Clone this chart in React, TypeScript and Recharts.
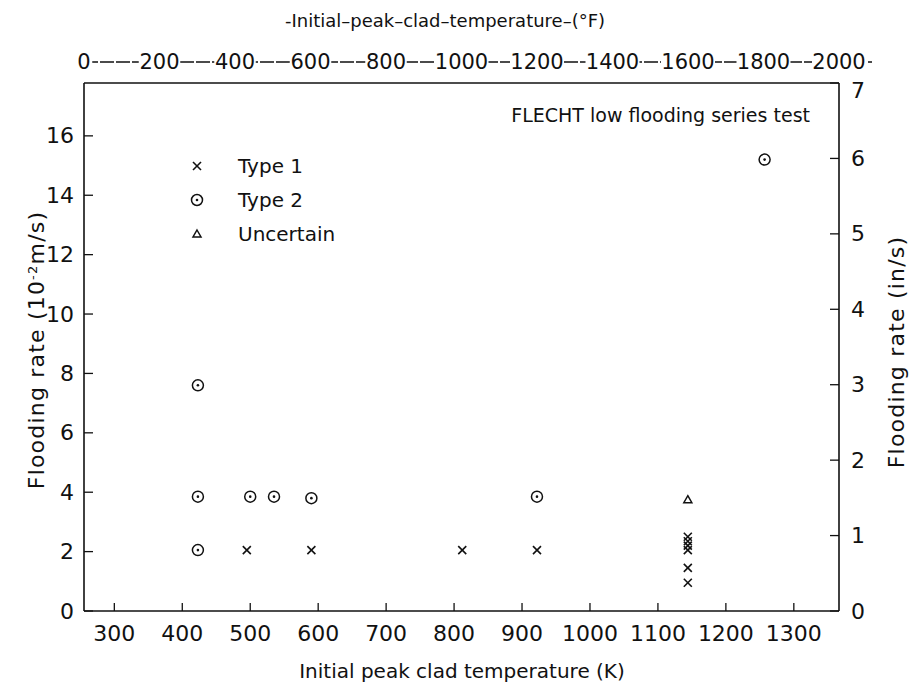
import { ReferenceLine, Scatter, ScatterChart, XAxis, YAxis } from "recharts";

const kelvinTicks = [300, 400, 500, 600, 700, 800, 900, 1000, 1100, 1200, 1300];
const fahrenheitTicks = [0, 200, 400, 600, 800, 1000, 1200, 1400, 1600, 1800, 2000];
const metricTicks = [0, 2, 4, 6, 8, 10, 12, 14, 16];
const inchTicks = [0, 1, 2, 3, 4, 5, 6, 7];

const type1Temps = [495, 590, 812, 922, 1144, 1144, 1144, 1144, 1144, 1144];
const type1Rates = [2.05, 2.05, 2.05, 2.05, 2.5, 2.35, 2.2, 2.05, 1.45, 0.95];
const type2Temps = [423, 423, 423, 500, 535, 590, 922, 1257];
const type2Rates = [7.6, 3.85, 2.05, 3.85, 3.85, 3.8, 3.85, 15.2];
const uncertainTemps = [1144];
const uncertainRates = [3.75];

const toPoints = (xs: number[], ys: number[]) => xs.map((x, i) => ({ k: x, rate: ys[i] }));
// same points in °F, only so the upper scale has a series bound to it
const toFahrenheit = (xs: number[], ys: number[]) =>
  xs.map((x, i) => ({ f: ((x - 273.15) * 9) / 5 + 32, rate: ys[i] }));

const INK = "#111";
const FONT = "'DejaVu Sans', sans-serif";

const Cross = ({ cx, cy }: any) => (
  <g stroke={INK} strokeWidth={1.6}>
    <line x1={cx - 4} x2={cx + 4} y1={cy - 4} y2={cy + 4} />
    <line x1={cx - 4} x2={cx + 4} y1={cy + 4} y2={cy - 4} />
  </g>
);

const Ring = ({ cx, cy }: any) => (
  <g>
    <circle cx={cx} cy={cy} fill="none" r={5.5} stroke={INK} strokeWidth={1.5} />
    <circle cx={cx} cy={cy} fill={INK} r={1.3} />
  </g>
);

const Tri = ({ cx, cy }: any) => (
  <polygon fill="none" points={`${cx},${cy - 4} ${cx + 4},${cy + 3} ${cx - 4},${cy + 3}`} stroke={INK} strokeWidth={1.5} />
);

const Nothing = () => <g />;

const LeftTick = ({ x, y, payload }: any) => (
  <g>
    <line stroke={INK} strokeWidth={1.3} x1={x} x2={x + 9} y1={y} y2={y} />
    <text dominantBaseline="central" fill={INK} fontFamily={FONT} fontSize={22} textAnchor="end" x={x - 10} y={y}>
      {payload.value}
    </text>
  </g>
);

const RightTick = ({ x, y, payload }: any) => (
  <g>
    <line stroke={INK} strokeWidth={1.3} x1={x} x2={x - 9} y1={y} y2={y} />
    <text dominantBaseline="central" fill={INK} fontFamily={FONT} fontSize={22} textAnchor="start" x={x + 12} y={Math.max(y, 90)}>
      {payload.value}
    </text>
  </g>
);

const BottomTick = ({ x, y, payload }: any) => (
  <g>
    <line stroke={INK} strokeWidth={1.3} x1={x} x2={x} y1={y} y2={y - 8} />
    <text dominantBaseline="central" fill={INK} fontFamily={FONT} fontSize={22} textAnchor="middle" x={x} y={y + 22}>
      {payload.value}
    </text>
  </g>
);

const TopTick = ({ x, y, payload }: any) => {
  const label = String(payload.value);
  const w = label.length * 12.5 + 4;
  return (
    <g>
      <rect fill="#fff" height={24} width={w} x={x - w / 2} y={y - 12} />
      <text dominantBaseline="central" fill={INK} fontFamily={FONT} fontSize={21} textAnchor="middle" x={x} y={y}>
        {label}
      </text>
    </g>
  );
};

const legendNames = ["Type 1", "Type 2", "Uncertain"];
const legendMarks = [Cross, Ring, Tri];

export default function App() {
  return (
    <div style={{ position: "absolute", left: 0, top: 0, width: 913, height: 693, background: "#fff" }}>
      <svg height={693} style={{ position: "absolute", left: 0, top: 0 }} width={913}>
        <line stroke={INK} strokeDasharray="14 2" strokeWidth={1.4} x1={84} x2={872} y1={62} y2={62} />
        <g fill={INK} fontFamily={FONT}>
          <text fontSize={18} textAnchor="middle" x={445} y={27}>
            -Initial–peak–clad–temperature–(°F)
          </text>
          <text dominantBaseline="central" fontSize={19} textAnchor="end" x={810} y={115}>
            FLECHT  low  flooding  series  test
          </text>
          {legendNames.map((name, i) => {
            const Mark = legendMarks[i];
            const y = 166 + i * 34;
            return (
              <g key={name}>
                <Mark cx={197} cy={y} />
                <text dominantBaseline="central" fontSize={20} x={238} y={y}>
                  {name}
                </text>
              </g>
            );
          })}
          <text fontSize={20} textAnchor="middle" x={462} y={678}>
            Initial  peak  clad  temperature  (K)
          </text>
          <text fontSize={22} letterSpacing={1.2} textAnchor="middle" transform="rotate(-90 36 350)" x={36} y={358}>
            Flooding  rate  (10<tspan baselineShift="super" fontSize={13}>-2</tspan>m/s)
          </text>
          <text fontSize={22} letterSpacing={1.2} textAnchor="middle" transform="rotate(-90 896 352)" x={896} y={360}>
            Flooding  rate  (in/s)
          </text>
        </g>
      </svg>
      <div style={{ position: "absolute", left: 0, top: 0 }}>
        <ScatterChart height={693} margin={{ bottom: 0, left: 0, right: 0, top: 0 }} width={913}>
          <XAxis
            allowDataOverflow
            axisLine={{ stroke: INK, strokeWidth: 1.6 }}
            dataKey="k"
            domain={[255.37, 1366.48]}
            height={82}
            orientation="bottom"
            tick={<BottomTick />}
            tickLine={false}
            tickMargin={0}
            tickSize={0}
            ticks={kelvinTicks}
            type="number"
            xAxisId="k"
          />
          <XAxis
            allowDataOverflow
            axisLine={false}
            dataKey="f"
            domain={[0, 2000]}
            height={83}
            orientation="top"
            tick={<TopTick />}
            tickLine={false}
            tickMargin={21}
            tickSize={0}
            ticks={fahrenheitTicks}
            type="number"
            xAxisId="f"
          />
          <YAxis
            allowDataOverflow
            axisLine={{ stroke: INK, strokeWidth: 1.6 }}
            dataKey="rate"
            domain={[0, 17.78]}
            orientation="left"
            tick={<LeftTick />}
            tickLine={false}
            tickMargin={0}
            tickSize={0}
            ticks={metricTicks}
            type="number"
            width={84}
            yAxisId="m"
          />
          <YAxis
            allowDataOverflow
            axisLine={{ stroke: INK, strokeWidth: 1.6 }}
            domain={[0, 7]}
            orientation="right"
            tick={<RightTick />}
            tickLine={false}
            tickMargin={0}
            tickSize={0}
            ticks={inchTicks}
            type="number"
            width={74}
            yAxisId="in"
          />
          <ReferenceLine ifOverflow="visible" stroke={INK} strokeWidth={1.6} xAxisId="k" y={17.78} yAxisId="m" />
          <Scatter data={toFahrenheit(type2Temps, type2Rates)} isAnimationActive={false} legendType="none" shape={<Nothing />} xAxisId="f" yAxisId="m" />
          <Scatter data={toPoints(type1Temps, type1Rates)} isAnimationActive={false} name="Type 1" shape={<Cross />} xAxisId="k" yAxisId="m" />
          <Scatter data={toPoints(type2Temps, type2Rates)} isAnimationActive={false} name="Type 2" shape={<Ring />} xAxisId="k" yAxisId="m" />
          <Scatter data={toPoints(uncertainTemps, uncertainRates)} isAnimationActive={false} name="Uncertain" shape={<Tri />} xAxisId="k" yAxisId="m" />
        </ScatterChart>
      </div>
    </div>
  );
}
